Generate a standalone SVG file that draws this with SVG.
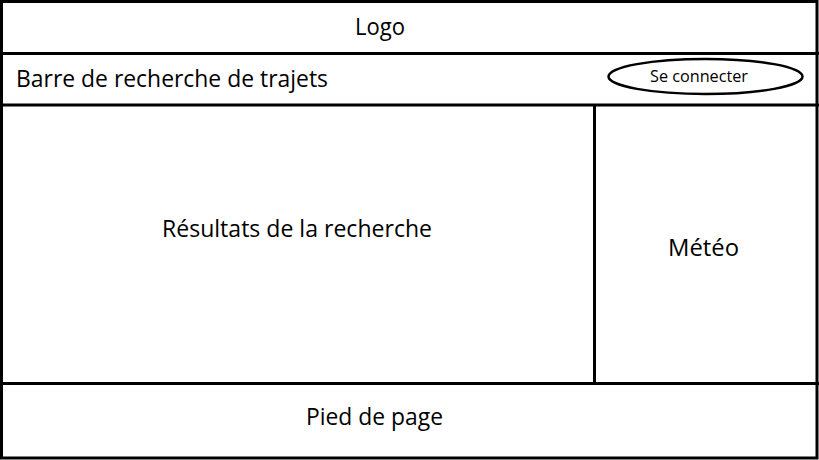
<svg xmlns="http://www.w3.org/2000/svg" width="819" height="460" viewBox="0 0 819 460">
<style>
.ln{stroke:#000;stroke-width:3;fill:none}
.t{font-family:"Open Sans","Noto Sans",sans-serif;fill:#000;font-size:24px}
.s{font-size:16px}
</style>
<rect width="819" height="460" fill="#fff"/>
<g id="connectors">
<rect class="ln" x="1.5" y="1.5" width="815.5" height="456.5"/>
<line class="ln" x1="0" y1="53.5" x2="819" y2="53.5"/>
<line class="ln" x1="0" y1="105" x2="819" y2="105"/>
<line class="ln" x1="594.5" y1="105" x2="594.5" y2="383.5"/>
<line class="ln" x1="0" y1="383.5" x2="819" y2="383.5"/>
</g>
<g id="logo"><text class="t" x="355" y="35" textLength="50" lengthAdjust="spacingAndGlyphs">Logo</text></g>
<g id="barre"><text class="t" x="16" y="87" textLength="312" lengthAdjust="spacingAndGlyphs">Barre de recherche de trajets</text></g>
<g id="connecter">
<ellipse cx="705.5" cy="76.5" rx="97" ry="17.5" fill="none" stroke="#000" stroke-width="2.5"/>
<text class="t s" x="650" y="82" textLength="98" lengthAdjust="spacingAndGlyphs">Se connecter</text>
</g>
<g id="resultats"><text class="t" x="162" y="237" textLength="270" lengthAdjust="spacingAndGlyphs">Résultats de la recherche</text></g>
<g id="meteo"><text class="t" x="668" y="256" textLength="71" lengthAdjust="spacingAndGlyphs">Météo</text></g>
<g id="pied"><text class="t" x="306" y="425" textLength="137" lengthAdjust="spacingAndGlyphs">Pied de page</text></g>
</svg>
